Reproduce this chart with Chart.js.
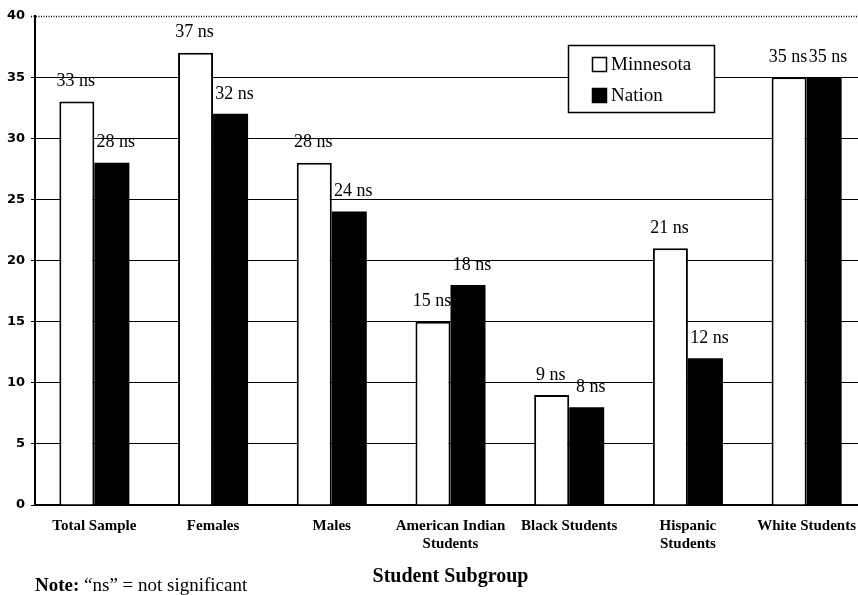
<!DOCTYPE html>
<html>
<head>
<meta charset="utf-8">
<script src="https://cdn.jsdelivr.net/npm/chart.js@4"></script>
<style>
html,body{margin:0;padding:0;overflow:hidden;background:#fff;width:858px;height:595px;}
#wrap{position:relative;width:868px;height:595px;}
#note{position:absolute;left:35px;top:575px;font-family:"Liberation Serif",serif;font-size:19px;line-height:20px;color:#000;white-space:nowrap;}
</style>
</head>
<body>
<div id="wrap">
<canvas id="c" width="868" height="595"></canvas>
<div id="note"><b>Note:</b> “ns” = not significant</div>
</div>
<script>
const categories = ["Total Sample", "Females", "Males", ["American Indian", "Students"], "Black Students", ["Hispanic", "Students"], "White Students"];
const minnesota = [33, 37, 28, 15, 9, 21, 35];
const nation = [28, 32, 24, 18, 8, 12, 35];
const seriesNames = ["Minnesota", "Nation"];
const yTicks = [0, 5, 10, 15, 20, 25, 30, 35, 40];
const labelSuffix = " ns";
const xTitle = "Student Subgroup";

const SERIF = '"Liberation Serif", "Times New Roman", serif';

const valueLabels = {
  id: 'valueLabels',
  afterDatasetsDraw(chart) {
    const ctx = chart.ctx;
    ctx.save();
    ctx.font = '18px ' + SERIF;
    ctx.fillStyle = '#000';
    ctx.textAlign = 'center';
    ctx.textBaseline = 'middle';
    chart.data.datasets.forEach((ds, di) => {
      const meta = chart.getDatasetMeta(di);
      meta.data.forEach((bar, i) => {
        ctx.fillText(ds.data[i] + labelSuffix, bar.x + (di === 1 ? 4 : -1), bar.y - 20);
      });
    });
    ctx.restore();
  }
};

const frameAndLegend = {
  id: 'frameAndLegend',
  beforeDatasetsDraw(chart) {
    const ctx = chart.ctx;
    const a = chart.chartArea;
    const y = chart.scales.y.getPixelForValue(40);
    ctx.save();
    ctx.strokeStyle = '#000';
    ctx.lineWidth = 1.5;
    ctx.setLineDash([1, 1.5]);
    ctx.beginPath();
    ctx.moveTo(a.left - 4, Math.round(y) + 0.5);
    ctx.lineTo(a.right, Math.round(y) + 0.5);
    ctx.stroke();
    ctx.restore();
  },
  afterDraw(chart) {
    const ctx = chart.ctx;
    ctx.save();
    const bx = 568, by = 45, bw = 146, bh = 67;
    ctx.fillStyle = '#fff';
    ctx.fillRect(bx, by, bw, bh);
    ctx.strokeStyle = '#000';
    ctx.lineWidth = 1.5;
    ctx.strokeRect(bx + 0.5, by + 0.5, bw, bh);
    const rows = [64, 95];
    chart.data.datasets.forEach((ds, i) => {
      const cy = rows[i];
      ctx.fillStyle = ds.backgroundColor;
      ctx.fillRect(592, cy - 7, 15, 15);
      ctx.strokeStyle = '#000';
      ctx.lineWidth = 1.5;
      ctx.strokeRect(592.5, cy - 6.5, 14, 14);
      ctx.fillStyle = '#000';
      ctx.font = '19px ' + SERIF;
      ctx.textAlign = 'left';
      ctx.textBaseline = 'middle';
      ctx.fillText(ds.label, 611, cy + 1);
    });
    ctx.restore();
  }
};

new Chart(document.getElementById('c'), {
  type: 'bar',
  data: {
    labels: categories,
    datasets: [
      { label: seriesNames[0], data: minnesota, backgroundColor: '#ffffff', borderColor: '#000000', borderWidth: 2 },
      { label: seriesNames[1], data: nation, backgroundColor: '#000000', borderColor: '#000000', borderWidth: 0 }
    ]
  },
  options: {
    responsive: false,
    animation: false,
    devicePixelRatio: 1,
    layout: { padding: { top: 16, right: 0, bottom: 0, left: 0 } },
    datasets: { bar: { categoryPercentage: 0.59, barPercentage: 1 } },
    plugins: { legend: { display: false }, tooltip: { enabled: false } },
    scales: {
      x: {
        grid: { display: false, drawTicks: false },
        border: { display: true, color: '#000', width: 2 },
        ticks: {
          color: '#000',
          font: { family: SERIF, size: 15, weight: 'bold', lineHeight: 1.2 },
          padding: 12,
          maxRotation: 0,
          autoSkip: false
        },
        title: {
          display: true,
          text: xTitle,
          color: '#000',
          font: { family: SERIF, size: 20, weight: 'bold', lineHeight: 1.2 },
          padding: { top: 0, bottom: 6 }
        },
        afterFit(scale) { scale.height = 90; }
      },
      y: {
        min: yTicks[0],
        max: yTicks[yTicks.length - 1],
        afterBuildTicks(scale) { scale.ticks = yTicks.map(v => ({ value: v })); },
        grid: {
          color: (c) => (c.tick && c.tick.value === 40) ? 'rgba(0,0,0,0)' : '#000',
          lineWidth: 1,
          drawTicks: true,
          tickLength: 4
        },
        border: { display: true, color: '#000', width: 2 },
        ticks: {
          color: '#000',
          font: { family: '"DejaVu Sans", sans-serif', size: 13, weight: 'bold' },
          padding: 6
        },
        afterFit(scale) { scale.width = 35; }
      }
    }
  },
  plugins: [valueLabels, frameAndLegend]
});
</script>
</body>
</html>
